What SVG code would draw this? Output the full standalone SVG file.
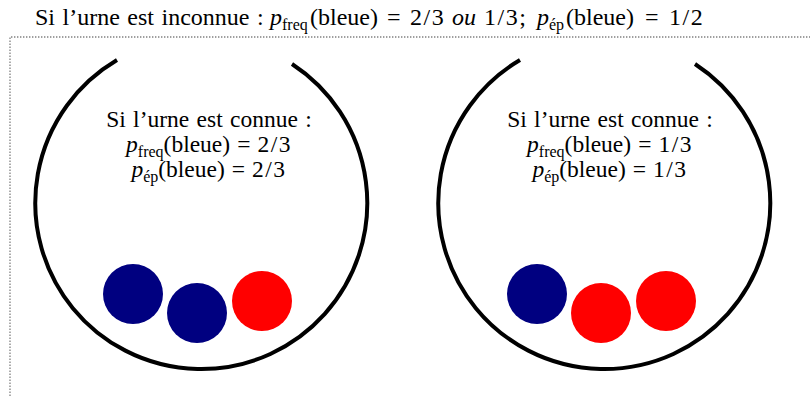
<svg xmlns="http://www.w3.org/2000/svg" width="810" height="396" viewBox="0 0 810 396">
<style>
.t{font-family:"Liberation Serif","DejaVu Serif",serif;font-size:23.5px;fill:#000;word-spacing:1.5px}
.h{font-size:24px}
.i{font-style:italic}
.s{font-size:16px}
.f{letter-spacing:1.5px}
.urn{fill:none;stroke:#000;stroke-width:4}
.blue{fill:#000080}
.red{fill:#ff0000}
.frame{fill:none;stroke:#808080;stroke-width:1.3;stroke-dasharray:1.4 1.6}
</style>
<rect width="810" height="396" fill="#fff"/>
<g id="title">
<text class="t h" y="25"><tspan x="35">Si l’urne est inconnue :</tspan><tspan class="i" x="270">p</tspan><tspan class="s" x="282" dy="5">freq</tspan><tspan x="310" dy="-5">(bleue)</tspan><tspan x="387">=</tspan><tspan class="f" x="410">2/3</tspan><tspan class="i" x="452">ou</tspan><tspan class="f" x="484">1/3;</tspan><tspan class="i" x="537">p</tspan><tspan class="s" x="549" dy="5">ép</tspan><tspan x="566" dy="-5">(bleue)</tspan><tspan x="645">=</tspan><tspan class="f" x="669">1/2</tspan></text>
</g>
<path id="frame" class="frame" d="M 10 396 L 10 37 L 810 37"/>
<g id="urn-left">
<path class="urn" d="M 117 60 A 166 166 0 1 0 292 64"/>
<circle class="blue" cx="133" cy="294" r="30"/>
<circle class="blue" cx="197" cy="313" r="30"/>
<circle class="red" cx="262" cy="301" r="30"/>
<text class="t" text-anchor="middle" x="209" y="127">Si l’urne est connue :</text>
<text class="t" text-anchor="middle" x="209" y="152"><tspan class="i">p</tspan><tspan class="s" dy="5">freq</tspan><tspan dy="-5">(bleue)</tspan><tspan dx="7">=</tspan><tspan class="f" dx="7">2/3</tspan></text>
<text class="t" text-anchor="middle" x="209" y="177"><tspan class="i">p</tspan><tspan class="s" dy="5">ép</tspan><tspan dy="-5">(bleue)</tspan><tspan dx="7">=</tspan><tspan class="f" dx="7">2/3</tspan></text>
</g>
<g id="urn-right">
<path class="urn" d="M 520 60 A 166 166 0 1 0 695 64"/>
<circle class="blue" cx="537" cy="294" r="30"/>
<circle class="red" cx="601" cy="313" r="30"/>
<circle class="red" cx="666" cy="301" r="30"/>
<text class="t" text-anchor="middle" x="610" y="127">Si l’urne est connue :</text>
<text class="t" text-anchor="middle" x="610" y="152"><tspan class="i">p</tspan><tspan class="s" dy="5">freq</tspan><tspan dy="-5">(bleue)</tspan><tspan dx="7">=</tspan><tspan class="f" dx="7">1/3</tspan></text>
<text class="t" text-anchor="middle" x="610" y="177"><tspan class="i">p</tspan><tspan class="s" dy="5">ép</tspan><tspan dy="-5">(bleue)</tspan><tspan dx="7">=</tspan><tspan class="f" dx="7">1/3</tspan></text>
</g>
</svg>
